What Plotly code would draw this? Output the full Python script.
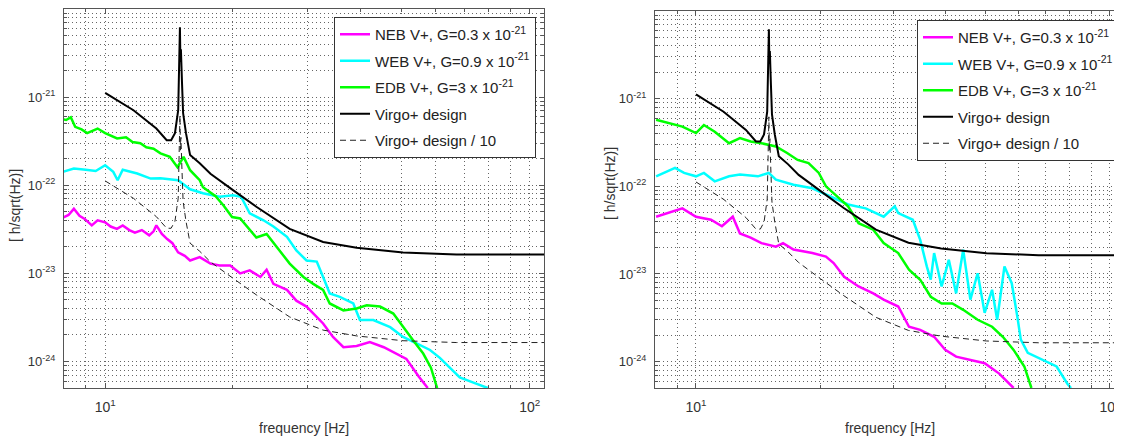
import math
import plotly.graph_objects as go

# ---------------- data ----------------
design_f = [10.0, 11.66, 13.2, 13.96, 14.3, 14.6, 14.86, 14.93, 15.0, 15.04, 15.08, 15.17,
            15.26, 15.5, 15.85, 16.7, 17.7, 20.0, 22.7, 27.2, 32.6, 39.1, 50.3, 67.2, 108.0]
design_v = [1.12e-21, 7.1e-22, 4.4e-22, 3.25e-22, 3.25e-22, 3.9e-22, 7.1e-22, 2.2e-21, 6.2e-21, 2.5e-21,
            3.5e-21, 1.45e-21, 6.6e-22, 3.9e-22, 2.2e-22, 1.78e-22, 1.35e-22, 8.8e-23, 5.7e-23, 3.2e-23,
            2.27e-23, 1.95e-23, 1.72e-23, 1.64e-23, 1.64e-23]
design_div10 = [v / 10 for v in design_v]

# left panel
L_neb_f = [7.96, 8.2, 8.44, 8.7, 8.95, 9.3, 9.6, 10.0, 10.3, 10.66, 11.0, 11.4, 11.75, 12.2, 12.7,
           13.0, 13.2, 13.6, 14.0, 14.4, 14.85, 15.4, 15.85, 16.7, 17.7, 18.6, 19.7, 20.8, 21.9, 23.2,
           24.0, 24.9, 26.8, 28.2, 29.8, 30.9, 32.6, 34.4, 36.4, 39.1, 42.0, 45.3, 48.5, 51.2, 54.8, 57.5]
L_neb_v = [4.3e-23, 4.6e-23, 5.4e-23, 4.5e-23, 4.15e-23, 3.5e-23, 4.0e-23, 3.8e-23, 3.4e-23, 3.2e-23,
           3.5e-23, 3.1e-23, 2.9e-23, 3.1e-23, 2.7e-23, 3.0e-23, 3.5e-23, 2.8e-23, 2.45e-23, 2.2e-23,
           1.73e-23, 1.58e-23, 1.4e-23, 1.53e-23, 1.29e-23, 1.23e-23, 1.23e-23, 1.0e-23, 1.08e-23, 9.1e-24,
           1.1e-23, 7.6e-24, 6.5e-24, 4.9e-24, 4.2e-24, 3.5e-24, 2.7e-24, 1.9e-24, 1.45e-24, 1.5e-24,
           1.66e-24, 1.45e-24, 1.23e-24, 1.07e-24, 6.7e-25, 5.0e-25]

L_web_f = [7.96, 8.44, 9.0, 9.5, 10.0, 10.45, 10.7, 11.0, 11.9, 12.8, 13.5, 14.85, 15.85, 17.0, 18.6,
           20.0, 20.9, 21.9, 23.6, 24.9, 26.8, 28.2, 29.8, 31.5, 32.6, 33.8, 35.7, 38.4, 39.8, 42.8,
           46.9, 50.3, 54.1, 58.2, 61.4, 68.4, 73.4, 79.6]
L_web_v = [1.42e-22, 1.55e-22, 1.5e-22, 1.45e-22, 1.69e-22, 1.42e-22, 1.14e-22, 1.5e-22, 1.36e-22,
           1.19e-22, 1.2e-22, 1.14e-22, 9.0e-23, 8.1e-23, 7.4e-23, 7.7e-23, 7.4e-23, 4.8e-23, 4.0e-23,
           3.4e-23, 2.6e-23, 1.82e-23, 1.4e-23, 1.36e-23, 9.1e-24, 5.9e-24, 5.4e-24, 4.55e-24, 2.95e-24,
           2.95e-24, 2.45e-24, 1.9e-24, 1.6e-24, 1.35e-24, 1.1e-24, 6.6e-25, 5.8e-25, 5.0e-25]

L_edb_f = [7.96, 8.09, 8.3, 8.5, 8.8, 9.07, 9.6, 10.0, 10.67, 11.2, 11.6, 12.1, 12.5, 13.0, 13.5,
           14.2, 14.8, 15.3, 15.85, 16.7, 17.0, 18.2, 19.0, 19.9, 20.8, 22.7, 24.0, 25.8, 27.2, 29.3,
           30.9, 32.6, 33.8, 36.4, 39.1, 41.3, 44.4, 47.7, 50.3, 53.1, 56.1, 58.5, 60.5]
L_edb_v = [5.6e-22, 5.5e-22, 5.9e-22, 4.6e-22, 4.3e-22, 3.9e-22, 4.4e-22, 3.9e-22, 3.4e-22, 3.5e-22,
           3.1e-22, 3.0e-22, 2.7e-22, 2.6e-22, 2.3e-22, 2.1e-22, 1.6e-22, 2.1e-22, 1.48e-22, 1.14e-22,
           9.5e-23, 7.5e-23, 5.9e-23, 4.35e-23, 4.2e-23, 2.55e-23, 2.8e-23, 1.82e-23, 1.29e-23, 9.1e-24,
           7.6e-24, 6.5e-24, 4.55e-24, 3.8e-24, 4.0e-24, 4.35e-24, 4.2e-24, 3.5e-24, 2.45e-24, 1.74e-24,
           1.23e-24, 8.5e-25, 5.0e-25]

# right panel
R_neb_f = [8.01, 8.55, 9.27, 10.0, 10.87, 11.55, 12.27, 12.77, 13.55, 14.39, 15.6, 16.23, 17.2, 19.1,
           20.6, 21.5, 22.8, 24.7, 26.8, 28.4, 30.8, 32.7, 34.8, 37.6, 40.0, 42.5, 46.0, 49.8, 54.0, 58.5]
R_neb_v = [4.5e-23, 4.95e-23, 5.6e-23, 4.5e-23, 4.15e-23, 3.5e-23, 4.5e-23, 2.9e-23, 2.6e-23, 2.25e-23,
           2.05e-23, 2.25e-23, 1.9e-23, 1.73e-23, 1.58e-23, 1.33e-23, 9.3e-24, 7.2e-24, 6.0e-24, 5.1e-24,
           4.25e-24, 2.5e-24, 2.3e-24, 1.92e-24, 1.36e-24, 1.14e-24, 1.05e-24, 9.6e-25, 7.3e-25, 5.0e-25]

R_web_f = [8.01, 8.38, 8.9, 9.36, 10.0, 10.45, 11.1, 12.02, 12.77, 14.11, 14.99, 15.6, 17.2, 19.1, 21.1,
           23.3, 25.7, 28.4, 30.2, 30.8, 33.4, 34.8, 36.1, 36.9, 37.6, 39.2, 40.8, 42.5, 44.2, 46.0,
           47.9, 49.8, 51.9, 53.4, 55.6, 57.9, 59.7, 60.9, 63.3, 68.6, 74.3, 78.9, 80.5]
R_web_v = [1.3e-22, 1.42e-22, 1.62e-22, 1.42e-22, 1.3e-22, 1.42e-22, 1.14e-22, 1.3e-22, 1.36e-22,
           1.3e-22, 1.42e-22, 1.19e-22, 1.04e-22, 9.5e-23, 7.7e-23, 6.2e-23, 5.6e-23, 4.5e-23, 5.9e-23,
           4.95e-23, 4.15e-23, 2.45e-23, 1.22e-23, 8.6e-24, 1.73e-23, 7.2e-24, 1.45e-23, 6.0e-24, 1.89e-23,
           5.1e-24, 1.02e-23, 3.6e-24, 6.6e-24, 3.0e-24, 1.22e-23, 7.85e-24, 3.3e-24, 1.78e-24, 1.26e-24,
           1.05e-24, 8.8e-25, 5.6e-25, 5.0e-25]

R_edb_f = [8.01, 8.55, 9.27, 10.0, 10.45, 11.1, 12.02, 12.77, 13.55, 14.39, 15.6, 16.6, 17.6, 18.7,
           19.8, 20.6, 21.9, 23.3, 24.7, 26.8, 28.4, 30.8, 32.7, 34.8, 36.9, 39.2, 41.6, 44.2, 47.9,
           51.9, 55.1, 58.5, 62.1, 64.6]
R_edb_v = [5.75e-22, 5.3e-22, 4.8e-22, 4.05e-22, 5.0e-22, 4.2e-22, 3.1e-22, 3.55e-22, 3.25e-22, 3.1e-22,
           2.85e-22, 2.4e-22, 2.0e-22, 1.84e-22, 1.42e-22, 1.0e-22, 7.7e-23, 5.9e-23, 3.8e-23, 3.2e-23,
           2.25e-23, 1.73e-23, 1.12e-23, 8.6e-24, 5.5e-24, 4.6e-24, 4.6e-24, 3.9e-24, 3.0e-24, 2.5e-24,
           1.92e-24, 1.36e-24, 8.8e-25, 5.0e-25]

names = ["NEB V+, G=0.3 x 10<sup>-21</sup>", "WEB V+, G=0.9 x 10<sup>-21</sup>",
         "EDB V+, G=3 x 10<sup>-21</sup>", "Virgo+ design", "Virgo+ design / 10"]
colors = ["#ff00ff", "#00ffff", "#00ff00", "#000000", "#000000"]

x_tickvals = [10, 100]
x_ticktext = ["10<sup>1</sup>", "10<sup>2</sup>"]
y_tickvals = [1e-24, 1e-23, 1e-22, 1e-21]
y_ticktext = ["10<sup>-24</sup>", "10<sup>-23</sup>", "10<sup>-22</sup>", "10<sup>-21</sup>"]

# ---------------- figure ----------------
# the page body has an 8px margin, so the figure is drawn 8px smaller and positions shifted
OFF = 8
W, H = 1122 - OFF, 436 - OFF

def px_x(p):
    return (p - OFF) / W

def px_y(p):
    return 1 - (p - OFF) / H

fig = go.Figure()

panels = [
    ("x", "y", "legend", "L", [(L_neb_f, L_neb_v), (L_web_f, L_web_v), (L_edb_f, L_edb_v)]),
    ("x2", "y2", "legend2", "R", [(R_neb_f, R_neb_v), (R_web_f, R_web_v), (R_edb_f, R_edb_v)]),
]
for xa, ya, lg, tag, series in panels:
    for i, (f, v) in enumerate(series):
        assert len(f) == len(v)
        fig.add_trace(go.Scatter(x=f, y=v, mode="lines", name=names[i], legend=lg,
                                 legendgroup=f"{tag}{i}", xaxis=xa, yaxis=ya,
                                 line=dict(color=colors[i], width=2.5)))
    fig.add_trace(go.Scatter(x=design_f, y=design_v, mode="lines", name=names[3], legend=lg,
                             legendgroup=f"{tag}3", xaxis=xa, yaxis=ya,
                             line=dict(color="#000000", width=2)))
    fig.add_trace(go.Scatter(x=design_f, y=design_div10, mode="lines", name=names[4], legend=lg,
                             legendgroup=f"{tag}4", xaxis=xa, yaxis=ya,
                             line=dict(color="#222222", width=1, dash="6px,4px")))

font = "Liberation Sans, Arial, Helvetica, sans-serif"
grid_col = "#666666"
axis_col = "#555555"
dotdash = "1px,3px"

x_minor = [9, 20, 30, 40, 50, 60, 70, 80, 90]
y_minor = [k * 10.0 ** d for d in range(-25, -20) for k in range(2, 10) if 5e-25 <= k * 10.0 ** d <= 1e-20]

def xax(domain, rng):
    return dict(type="log", domain=domain, range=rng, showline=True, mirror="ticks",
                linecolor=axis_col, linewidth=1, ticks="inside", ticklen=5, tickcolor=axis_col,
                tickmode="array", tickvals=x_tickvals, ticktext=x_ticktext,
                showgrid=True, gridcolor=grid_col, griddash=dotdash, gridwidth=1,
                tickfont=dict(family=font, size=14, color="#333333"), ticklabelstandoff=6,
                minor=dict(tickmode="array", tickvals=x_minor, showgrid=True, gridcolor=grid_col,
                           griddash=dotdash, ticks="inside", ticklen=3, tickcolor=axis_col),
                zeroline=False, automargin=False)

def yax(domain, anchor):
    return dict(type="log", domain=domain, range=[math.log10(5e-25), -20.0], anchor=anchor,
                showline=True, mirror="ticks", linecolor=axis_col, linewidth=1,
                ticks="inside", ticklen=5, tickcolor=axis_col,
                tickmode="array", tickvals=y_tickvals, ticktext=y_ticktext,
                showgrid=True, gridcolor=grid_col, griddash=dotdash, gridwidth=1,
                tickfont=dict(family=font, size=13, color="#333333"), ticklabelstandoff=5,
                minor=dict(tickmode="array", tickvals=y_minor, showgrid=True, gridcolor=grid_col,
                           griddash=dotdash, ticks="inside", ticklen=3, tickcolor=axis_col),
                zeroline=False, automargin=False)

legend_style = dict(bgcolor="white", bordercolor="#333333", borderwidth=1,
                    font=dict(family=font, size=15, color="#222222"),
                    xanchor="left", yanchor="top", tracegroupgap=4, itemwidth=30)

title_font = dict(family=font, size=14, color="#333333")

fig.update_layout(
    width=W, height=H, autosize=False,
    margin=dict(l=0, r=0, t=0, b=0),
    paper_bgcolor="white", plot_bgcolor="white",
    xaxis=dict(xax([px_x(64), px_x(544)], [math.log10(8.0), math.log10(108.0)]), anchor="y"),
    yaxis=yax([px_y(388), px_y(9)], "x"),
    xaxis2=dict(xax([px_x(655), 1.0], [0.901, 2.029]), anchor="y2"),
    yaxis2=yax([px_y(388), px_y(11)], "x2"),
    legend=dict(legend_style, x=px_x(334), y=px_y(17)),
    legend2=dict(legend_style, x=px_x(917), y=px_y(20)),
    annotations=[
        dict(text="frequency [Hz]", x=px_x(304), y=px_y(428), xref="paper", yref="paper",
             xanchor="center", yanchor="middle", showarrow=False, font=title_font),
        dict(text="frequency [Hz]", x=px_x(890), y=px_y(428), xref="paper", yref="paper",
             xanchor="center", yanchor="middle", showarrow=False, font=title_font),
        dict(text="[ h/sqrt(Hz)]", x=px_x(15), y=px_y(206), xref="paper", yref="paper",
             xanchor="center", yanchor="middle", showarrow=False, textangle=-90, font=title_font),
        dict(text="[ h/sqrt(Hz)]", x=px_x(610), y=px_y(184), xref="paper", yref="paper",
             xanchor="center", yanchor="middle", showarrow=False, textangle=-90, font=title_font),
    ],
)

fig.write_html("out.html")
